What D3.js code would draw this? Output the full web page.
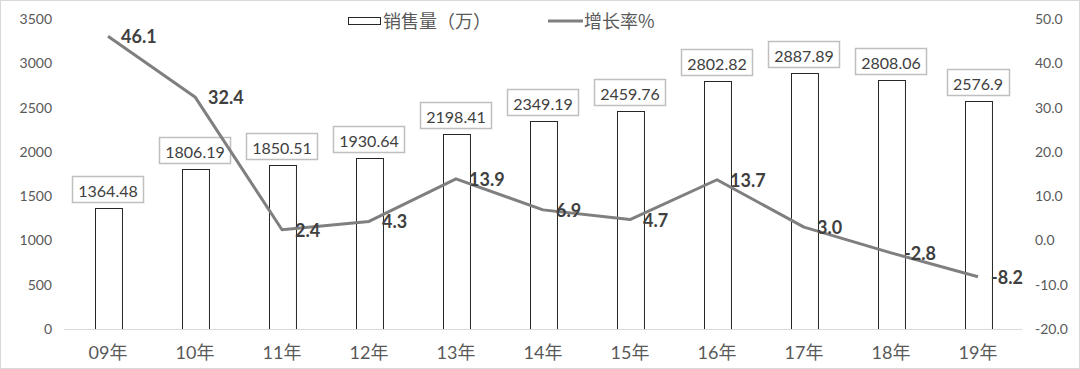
<!DOCTYPE html>
<html><head><meta charset="utf-8">
<script src="https://cdn.jsdelivr.net/npm/d3@7"></script>
<style>
html,body{margin:0;padding:0;background:#fff;}
svg{display:block;}
</style></head>
<body>
<script>
const categories = ["09年","10年","11年","12年","13年","14年","15年","16年","17年","18年","19年"];
const sales = [1364.48,1806.19,1850.51,1930.64,2198.41,2349.19,2459.76,2802.82,2887.89,2808.06,2576.9];
const salesLabels = ["1364.48","1806.19","1850.51","1930.64","2198.41","2349.19","2459.76","2802.82","2887.89","2808.06","2576.9"];
const growth = [46.1,32.4,2.4,4.3,13.9,6.9,4.7,13.7,3.0,-2.8,-8.2];
const leftTicks = [0,500,1000,1500,2000,2500,3000,3500];
const rightTicks = [-20,-10,0,10,20,30,40,50];
const legendNames = ["销售量（万）","增长率%"];

const W=1080,H=369;
const svg=d3.select("body").append("svg").attr("width",W).attr("height",H);
const font="Lato, 'Noto Sans CJK SC', sans-serif";
const fmt1=d=>d.toFixed(1);
svg.append("rect").attr("x",0.5).attr("y",0.5).attr("width",W-1).attr("height",H-1)
  .attr("fill","#fff").attr("stroke","#d9d9d9");

const x=d3.scaleBand().domain(categories).range([64.5,1021.5]).paddingInner(0.69).paddingOuter(0.345);
const yL=d3.scaleLinear().domain([0,3500]).range([329,19]);
const yR=d3.scaleLinear().domain([-20,50]).range([329,19]);
const cx=c=>x(c)+x.bandwidth()/2;

// left axis
const gl=svg.append("g").attr("transform","translate(52,0)")
  .call(d3.axisLeft(yL).tickValues(leftTicks).tickSize(0).tickPadding(0).tickFormat(d=>String(d)));
gl.select(".domain").remove();
gl.selectAll("text").attr("font-family",font).attr("font-size",14).attr("fill","#595959");

// right axis
const gr=svg.append("g").attr("transform","translate(1035,0)")
  .call(d3.axisRight(yR).tickValues(rightTicks).tickSize(0).tickPadding(0).tickFormat(fmt1));
gr.select(".domain").remove();
gr.selectAll("text").attr("font-family",font).attr("font-size",14).attr("fill","#595959");

// bars
svg.append("g").selectAll("rect").data(sales).join("rect")
  .attr("x",(d,i)=>Math.round(x(categories[i]))+0.5)
  .attr("y",d=>Math.round(yL(d))+0.5)
  .attr("width",x.bandwidth())
  .attr("height",d=>329-Math.round(yL(d)))
  .attr("fill","#fff").attr("stroke","#262626").attr("stroke-width",1);

// x axis
const gx=svg.append("g").attr("transform","translate(0,329.5)")
  .call(d3.axisBottom(x).tickSize(0).tickPadding(17));
gx.select(".domain").attr("stroke","#d9d9d9").attr("d","M64,0H1022");
gx.selectAll("text").attr("font-family",font).attr("font-size",18).attr("fill","#595959");

// bar labels
const lg=svg.append("g");
sales.forEach((d,i)=>{
  const g=lg.append("g");
  const t=g.append("text").attr("x",cx(categories[i])).attr("y",yL(d)-11)
    .attr("text-anchor","middle").attr("font-family",font).attr("font-size",16).attr("fill","#404040")
    .text(salesLabels[i]);
  const bb=t.node().getBBox();
  g.insert("rect","text").attr("x",Math.round(bb.x-6)+0.5).attr("y",Math.round(yL(d)-32)+0.5)
    .attr("width",Math.round(bb.width+12)).attr("height",26)
    .attr("fill","#fff").attr("stroke","#bfbfbf").attr("stroke-width",1.5);
});

// line
const line=d3.line().x((d,i)=>cx(categories[i])).y(d=>yR(d));
svg.append("path").datum(growth).attr("d",line).attr("fill","none")
  .attr("stroke","#7f7f7f").attr("stroke-width",3).attr("stroke-linejoin","round");

// line labels
svg.append("g").selectAll("text").data(growth).join("text")
  .attr("x",(d,i)=>cx(categories[i])+13).attr("y",d=>yR(d)+7)
  .attr("font-family",font).attr("font-size",18).attr("font-weight","bold").attr("fill","#404040")
  .text(fmt1);

// legend
const leg=svg.append("g");
leg.append("rect").attr("x",348.5).attr("y",17.5).attr("width",32).attr("height",7)
  .attr("fill","#fff").attr("stroke","#262626");
leg.append("text").attr("x",383).attr("y",28).attr("font-family","'Noto Sans CJK SC', sans-serif")
  .attr("font-size",18).attr("fill","#595959").text(legendNames[0]);
leg.append("line").attr("x1",548).attr("x2",583).attr("y1",21).attr("y2",21)
  .attr("stroke","#7f7f7f").attr("stroke-width",3);
leg.append("text").attr("x",584).attr("y",28).attr("font-family","'Noto Sans CJK SC', sans-serif")
  .attr("font-size",18).attr("fill","#595959").text(legendNames[1]);
</script>
</body></html>
